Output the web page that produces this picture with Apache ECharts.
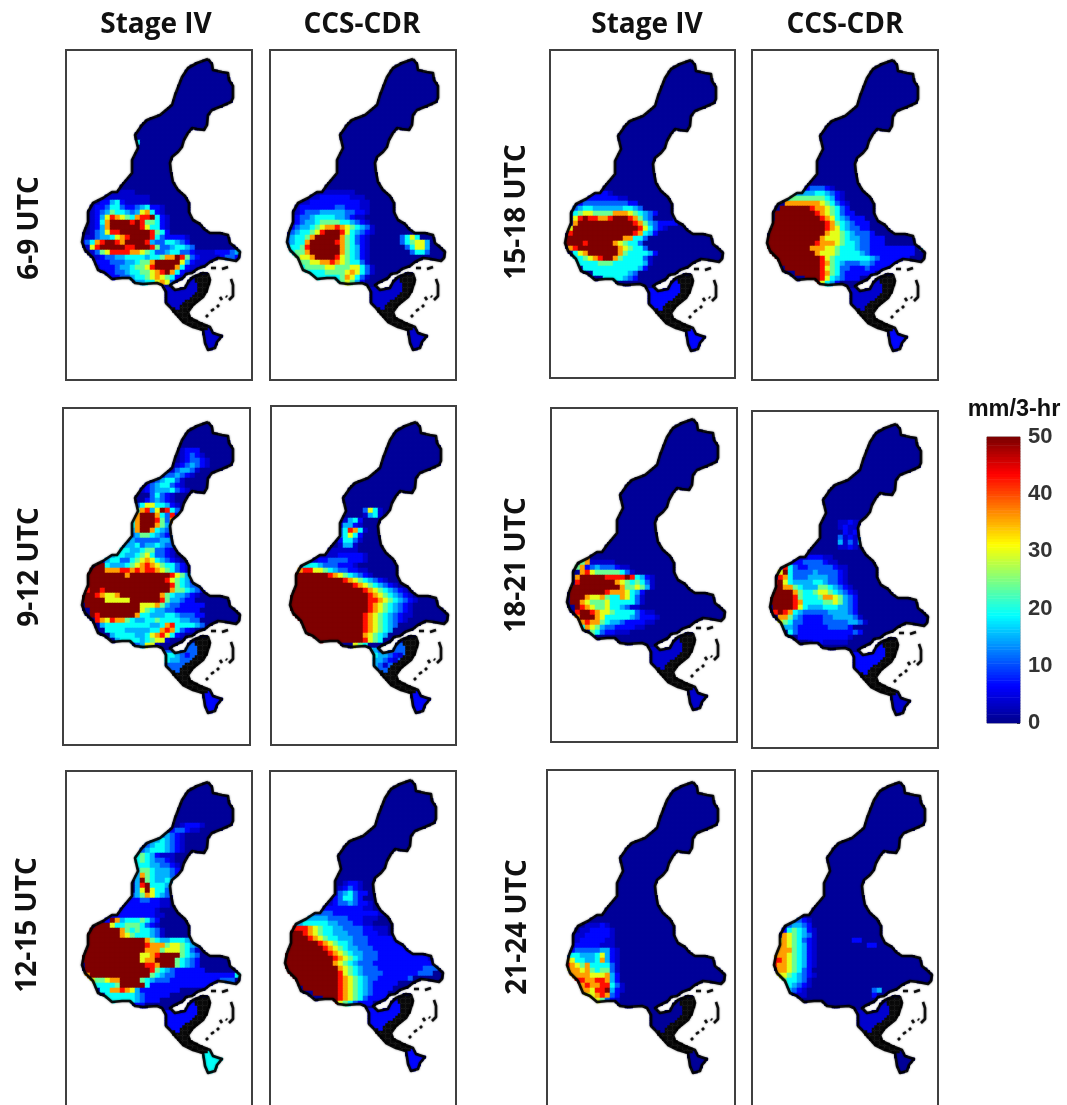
<!DOCTYPE html>
<html><head><meta charset="utf-8">
<style>html,body{margin:0;padding:0;background:#fff}#c{width:1067px;height:1105px}</style>
<script src="https://cdn.jsdelivr.net/npm/echarts@6/dist/echarts.min.js"></script>
</head><body><div id="c"></div>
<script>
// Precipitation class values (mm/3-hr) addressed by digits 0..a in the panel rows below
const levels=[0.5,3.5,6.5,11,15,19,24,30,36,43,50];
const colorbarTicks=[0,10,20,30,40,50];
const columnTitles=['Stage IV','CCS-CDR','Stage IV','CCS-CDR'];
const rowTitles=['6-9 UTC','9-12 UTC','12-15 UTC','15-18 UTC','18-21 UTC','21-24 UTC'];

// Basin boundary, in map units
const basinOutline=[[208,59],[212,64],[213,70],[222,72],[228,73],[229,80],[233,86],[233,98],[231,102],[222,106],[212,110],[208,115],[207,125],[204,130],[197,129],[192,128],[188,133],[184,140],[182,147],[178,152],[172,157],[170,163],[171,172],[173,182],[178,190],[185,196],[189,203],[189,212],[193,220],[200,224],[204,229],[210,233],[220,233],[228,235],[230,243],[236,248],[240,252],[239,258],[236,261],[226,259],[218,258],[210,262],[205,266],[197,269],[192,273],[186,274],[183,278],[173,283],[170,285],[175,290],[185,288],[188,282],[193,277],[203,273],[208,274],[210,280],[207,290],[203,297],[193,305],[188,312],[190,318],[200,323],[210,327],[213,333],[222,336],[217,342],[215,348],[208,350],[205,343],[203,330],[193,327],[183,322],[175,313],[170,307],[166,303],[166,292],[162,285],[157,283],[143,284],[135,283],[130,278],[122,278],[112,279],[105,273],[98,270],[93,258],[85,250],[82,242],[84,232],[88,222],[88,212],[93,203],[103,198],[112,192],[117,192],[122,185],[132,173],[132,160],[138,148],[135,135],[142,125],[147,120],[160,115],[172,105],[175,95],[182,77],[188,68],[197,63],[208,59]];
const islandStrokes=[[[211,268],[216,268]],[[222,269],[228,267]],[[231,279],[233,285],[233,296],[229,300]],[[226,296],[227,297]],[[220,297],[222,300]],[[217,307],[219,305]],[[211,311],[214,309]],[[206,317],[208,315]]];
const stippleArea=[[193,277],[208,274],[210,280],[207,290],[203,297],[193,305],[188,312],[190,318],[200,323],[210,327],[203,331],[193,328],[183,323],[175,313],[170,307],[178,310],[183,303],[192,297],[197,292],[198,284]];
const southUpperArea=[[160,286],[175,288],[187,286],[193,278],[198,284],[197,292],[192,297],[183,303],[178,312],[168,310],[160,303]];
const southTipArea=[[203,330],[210,327],[224,336],[218,352],[205,352]];
// south land classes per panel (digits)
const southUpperClass=[1,1,3,3,2,2,2,1,1,2,0,1];
const southTipClass=[1,1,2,2,5,2,2,2,1,1,0,0];

// Each row: "row col digits"
const stageIV_06_09=["17 11 5","27 4 1111111","28 3 11111111111","29 2 112245211111","30 2 122355322345221","31 2 123465543478521","32 2 124798765899a521","33 2 1258aaaa9a966521","34 2 1248aaaaaa975521","35 2 134799aaaaaa9652","36 0 1113445789aaaa95322221","37 0 23589aa98aaaa943355432","38 1 179aaaaa99aaa963345543","39 2 13679999887653345533211112223451","40 2 11233445555455688a963211112332","41 2 1222333445668aaaaa742111","42 3 122234456679aaaa85211","43 4 1223345566789a8521","44 5 12233455678765210","45 7 122344557873210","46 14 232"];
const ccsCdr_06_09=["27 7 1111111","28 4 1112222221110","29 3 11222222222211","30 2 122222223322211","31 2 123334444433221","32 1 123345555443211","33 1 1234456666554321","34 0 123445678898765431","35 0 23455679aaa9754321","36 0 345568aaaaa865321","36 23 3575","37 0 34558aaaaa9865321","37 23 356774","38 0 45569aaaaaa865421","38 24 35774","39 0 55668aaaaaa865421","39 25 3553","40 1 56778aaaa9765421","41 2 666778898765531","42 3 566667766677531","43 4 55556666787531","44 5 455555687531","45 9 4567642"];
const stageIV_09_12=["6 20 1222","7 20 12321","8 20 123321","9 19 1234321","10 17 1134431","11 15 12334321","12 13 12345531","13 12 123455321","14 12 1234445321","15 14 35321","16 13 234321","17 10 1357755421","18 10 268947a9531","19 10 48aaa853921","20 9 258aaa963861","21 9 258aaa864981","22 9 248aa8543751","23 9 234665432321","24 7 12343333344321","25 6 123445344543321","26 4 1223554456633211","27 3 1234554456753321","28 3 12455335678754321","29 3 aa54445678987655321","30 2 aaa88899898998765321","31 1 aaaaaaaa8aaaaaaaa9764321","32 1 aaaaaaaaaaaaaaaa9765421","33 1 aaaaaaaaaaaaaaaaa96543321","34 0 a9aa9aaaaaaaaaaaaa866543211","35 0 aaa98778aaaaaaaa86544321","36 0 aaaaa77777aaaaaa9644322","37 1 aaaaaaaaaaa7778643322222","38 2 aaaaaaaaaa765443322222","39 2 a9aaaaaaa85544455433322","40 3 987988654455655554433","41 4 455555555544589555543","42 5 555544444558985321","43 6 455554457897521","44 7 45555456771","45 9 2234771","47 17 55432","48 17 5443"];
const ccsCdr_09_12=["18 15 3751","19 15 1451","20 11 1452","21 10 24421","22 10 359851","23 10 35752","24 10 25531","25 10 1441","26 8 111111","27 6 1111222221","28 3 1112233332221","29 2 255543332221","30 2 89977654332211","31 0 aaaaaaaa987654321","32 0 aaaaaaaaaaa987654321","33 0 aaaaaaaaaaaaa987654321","34 0 aaaaaaaaaaaaaaa987654321","35 0 aaaaaaaaaaaaaaaa987654321","36 0 aaaaaaaaaaaaaaaa9987654321","37 0 aaaaaaaaaaaaaaaa987654321","38 0 aaaaaaaaaaaaaaaa987654321","39 0 aaaaaaaaaaaaaaa9876543211","40 0 aaaaaaaaaaaaaaa987654321","41 2 aaaaaaaaaaaaa9876543","42 3 aaaaaaaaaaaa987654","43 4 aaaaaaaaaaa87654","44 5 aaaaaaaaaa9765","45 13 765","46 16 54","47 16 5544321","48 16 544321","49 16 5431"];
const stageIV_12_15=["9 20 12221","10 17 1233211","11 14 2334321","12 13 34454321","13 13 34554321","14 12 345554321","15 11 56542111","16 11 56543321","17 11 555443321","18 11 4665444321","19 11 4865444321","20 11 4a654454321","21 11 49a55544321","22 11 47a755321","23 10 3468754321","24 8 2222332211","25 7 22222222211","26 6 2222222221","27 4 12222222222110","28 5 2a845556532","29 3 aaa7556665321","30 2 aaaaaa865655431","31 1 aaaaaaa876555431","32 1 aaaaaaaaaaaa865445554321","33 1 aaaaaaaaaaaa9888677654321","34 0 aaaaaaaaaaaaa88867776531","35 0 aaaaaaaaaaaa7789aaaa6543","36 0 aaaaaaaaaaaa788aaaa65432","37 1 aaaaaaaaaaaa998aaa65432","38 1 aaaaaaaaaaaaa96543222222","39 1 8aaaaaaaaaaaa654332222222222225553","40 2 766788aaaa6543332222222222333","41 3 55556aaaaa52222222222222","42 4 5588987422222222","43 5 5555554322222","44 6 5555543222","45 8 32222"];
const ccsCdr_12_15=["21 12 1221","22 11 12321","23 10 1345322","24 10 235532","25 9 123343221","26 5 1222222222211","27 3 233333322222222211","28 2 33444443333222111","29 2 4455555443332211","30 1 89998765544333322111","31 0 aaaa98765544433322211","32 0 aaaaa98765544433322222111","33 0 aaaaaaa9876554333222222211","34 0 aaaaaaaa98765443332222222211","35 0 aaaaaaaaa98765443332222222221","36 0 aaaaaaaaaa98765433322222222221","37 0 aaaaaaaaaa876543332222222222221","38 0 aaaaaaaaaaa87654333222222222333","39 0 aaaaaaaaaaa9765433332222222333","40 2 aaaaaaaaa987654332222223","41 3 aaaaaaaa987654322222","42 4 aaaaaaa98765432222","43 6 aaaaa9876543222","44 8 aaa9876532222","45 10 97653222"];
const stageIV_15_18=["27 2 00112221","28 3 1222222211","29 3 233333333322","30 2 34554444445543","31 2 56776666888765432","32 2 79a99889aaa98643","32 22 222","33 2 8aaaaaaaaaaa986432222","34 1 7aaaaaaaaaaaaa975321","35 1 9aaaaaaaaaaaa98542","36 0 aaaaaaaaaaaa88553","37 0 aaaa9aaaaa876553","38 1 89aaaaaaaa876553","39 2 578aaaaaa86555542","40 2 556789aa86555531","41 3 555566655555541","42 4 5555555555542","43 6 555555543","44 8 5555432"];
const ccsCdr_15_18=["26 6 12233321","27 5 34444554321","28 4 566666665421","29 4 8888888765321","30 3 aaaaaa98876532","31 2 aaaaaaaa98765322","32 2 aaaaaaaaa987543222","33 1 aaaaaaaaaaa986543222","34 1 aaaaaaaaaaa987543322","35 1 aaaaaaaaaaa8776543332","36 0 aaaaaaaaaaa8777654433222","37 0 aaaaaaaaaa98887655433222","38 0 aaaaaaaaa888776555433222222222","38 31 4","39 1 aaaaaaaaa87776555543222222222","40 2 aaaaaaaaa976555555543222222","41 3 aaaaaaaa9865433344322222","42 4 aaaaaaa97653322232222","43 6 aaaaa98653222222","44 8 aaa97543222","45 10 97542"];
const stageIV_18_21=["27 3 56","28 3 68","29 3 6811111","30 2 68234333211","31 3 89766666531","32 2 8aaaaa9999a95421","33 2 9aaaaaaa87656531","34 1 aaaaaaaaaa8667641","35 1 aaaaaaa98887542","36 1 aaa877865587531","37 1 aa8766675555531","38 2 a987667554311","39 2 9aa9877655553211","40 2 8aaa8755555432221","41 3 898865443222211","42 3 5876433222211","43 5 65322111"];
const ccsCdr_18_21=["20 14 11211","21 14 12111","22 15 2121","23 14 31213","24 14 41314","25 14 1121","27 6 11222110","28 4 2223333211","29 2 39532233333211","30 2 7a533334333321","31 2 98533344443321","32 1 9a7544445543321","33 1 aa88654446654321","34 0 aaaaa8655677654321","35 0 aaaaa9655568876432","36 0 aaaaa9855556676432","37 1 aaaa9754445554432","38 1 9a985433333444432","39 2 88643222233444431","40 2 765332222333334431","41 3 44322222233332","42 4 532222222222232","43 6 22222222221","44 8 12211111"];
const stageIV_21_24=["29 4 11121","30 3 1122221","31 2 11222221","32 2 12222211","33 1 122222111","34 1 2333334421","35 0 35544457421","36 0 87554458421","37 0 98768555531","38 0 78878656631","39 1 8888777842","40 1 8998899842","41 2 8898899531","42 2 688799a421","43 3 67789832","44 4 6776321","45 5 76321"];
const ccsCdr_21_24=["28 3 23321","29 3 34432","30 2 2565421","31 2 8765431","32 1 78765321","32 16 22","33 1 88765421","33 19 22","34 1 88865421","35 0 888765421","36 0 998765421","37 0 988765421","38 1 8876532","39 1 77654321","40 1 6655431","41 2 554321","42 2 54321","42 20 34","43 3 3211","43 20 2"];
const panels=[stageIV_06_09,ccsCdr_06_09,stageIV_09_12,ccsCdr_09_12,stageIV_12_15,ccsCdr_12_15,stageIV_15_18,ccsCdr_15_18,stageIV_18_21,ccsCdr_18_21,stageIV_21_24,ccsCdr_21_24];

// layout only
const frames=[[66,50,186,330],[270,50,186,330],[63,408,187,337],[271,406,185,339],[66,771,186,400],[270,771,186,400],[550,50,185,328],[752,50,186,330],[551,408,186,334],[752,411,186,337],[547,770,188,400],[752,771,186,400]];
const mapShift=[[0,0],[205,0],[0,363],[208,363],[0,723],[203,721],[483,1],[685,1],[485,360],[688,365],[485,723],[692,723]];
const colTitlePos=[[156,25],[362,25],[647,25],[845,25]];
const rowTitlePos=[[30,228],[30,567],[28,925],[517,212],[517,565],[518,927]];

const X0=80,Y0=55,COARSE=5,SUB=2,CELL=COARSE/SUB,COLS=34*SUB,ROWS=60*SUB;
const jet=['#00008f','#0000ff','#007fff','#00ffff','#7fff7f','#ffff00','#ff7f00','#ff0000','#7f0000'];
function inside(p,poly){let c=false;for(let i=0,j=poly.length-1;i<poly.length;j=i++){const a=poly[i],b=poly[j];if((a[1]>p[1])!==(b[1]>p[1])&&p[0]<(b[0]-a[0])*(p[1]-a[1])/(b[1]-a[1])+a[0])c=!c;}return c;}
function parseRows(rows){const m={};rows.forEach(s=>{const t=s.split(' ');[...t.slice(2).join('')].forEach((ch,i)=>{m[(+t[1]+i)+','+t[0]]=levels[parseInt(ch,11)];});});return m;}
const strokes=[basinOutline];
islandStrokes.forEach(s=>strokes.push(s));
const outlineData=[];strokes.forEach((s,i)=>{if(i)outlineData.push(['-','-']);s.forEach(p=>outlineData.push(p));});
const colNames=Array.from({length:COLS},(_,i)=>i),rowNames=Array.from({length:ROWS},(_,i)=>i);

const grid=[],xAxis=[],yAxis=[],series=[],heatIdx=[];
panels.forEach((rows,i)=>{
  const g=grid.length,sh=mapShift[i],over=parseRows(rows),heat=[],black=[];
  grid.push({left:X0+sh[0],top:Y0+sh[1],width:34*COARSE,height:60*COARSE,show:false});
  const xc=xAxis.length;xAxis.push({type:'category',gridIndex:g,data:colNames,show:false});
  xAxis.push({type:'value',gridIndex:g,min:X0,max:X0+34*COARSE,show:false});
  const yc=yAxis.length;yAxis.push({type:'category',gridIndex:g,data:rowNames,inverse:true,show:false});
  yAxis.push({type:'value',gridIndex:g,min:Y0,max:Y0+60*COARSE,inverse:true,show:false});
  for(let r=0;r<ROWS;r++)for(let c=0;c<COLS;c++){
    const p=[X0+CELL*(c+.5),Y0+CELL*(r+.5)];
    if(!inside(p,basinOutline))continue;
    if(inside(p,stippleArea)){black.push([c,r,1]);continue;}
    let v=levels[0];
    if(inside(p,southUpperArea))v=levels[southUpperClass[i]];
    else if(inside(p,southTipArea))v=levels[southTipClass[i]];
    const k=Math.floor(c/SUB)+','+Math.floor(r/SUB);if(over[k]!==undefined)v=over[k];
    heat.push([c,r,v]);
  }
  // drawn twice so that the fractional cell edges leave no pale seams
  heatIdx.push(series.length);
  series.push({type:'heatmap',xAxisIndex:xc,yAxisIndex:yc,data:heat,progressive:0,silent:true,itemStyle:{borderWidth:0}});
  heatIdx.push(series.length);
  series.push({type:'heatmap',xAxisIndex:xc,yAxisIndex:yc,data:heat,progressive:0,silent:true,itemStyle:{borderWidth:0}});
  series.push({type:'heatmap',xAxisIndex:xc,yAxisIndex:yc,data:black,progressive:0,silent:true,itemStyle:{color:'#0a0a0a',borderWidth:0}});
  series.push({type:'line',xAxisIndex:xc+1,yAxisIndex:yc+1,data:outlineData,showSymbol:false,symbol:'none',silent:true,clip:false,z:5,lineStyle:{color:'#000',width:2.6,opacity:.9,join:'round',shadowBlur:2,shadowColor:'rgba(0,0,0,.6)'}});
});
// colour bar
const cbValues=[];for(let v=0;v<=50;v+=.5)cbValues.push(v);
{const g=grid.length;
 grid.push({left:987,top:437,width:33,height:286,show:true,borderColor:'#8a8a8a',borderWidth:1,backgroundColor:'transparent'});
 const xc=xAxis.length;xAxis.push({type:'category',gridIndex:g,data:['c'],show:false});
 const yc=yAxis.length;yAxis.push({type:'category',gridIndex:g,data:cbValues,show:false});
 yAxis.push({type:'value',gridIndex:g,min:colorbarTicks[0],max:colorbarTicks[5],interval:10,position:'right',splitLine:{show:false},axisLine:{show:false},
   axisTick:{show:true,inside:true,length:3,lineStyle:{color:'#333'}},
   axisLabel:{show:true,margin:8,color:'#333',fontWeight:'bold',fontSize:22,fontFamily:'Liberation Sans',formatter:v=>String(v)}});
 heatIdx.push(series.length);
 series.push({type:'heatmap',xAxisIndex:xc,yAxisIndex:yc,data:cbValues.map((v,i)=>[0,i,v]),progressive:0,silent:true});
 series.push({type:'line',xAxisIndex:xc,yAxisIndex:yc+1,data:[],silent:true});
}
const graphic=[];
frames.forEach(f=>graphic.push({type:'rect',silent:true,z:20,shape:{x:f[0],y:f[1],width:f[2],height:f[3]},style:{fill:'none',stroke:'#404040',lineWidth:2}}));
const font='"Open Sans"';
columnTitles.forEach((t,i)=>graphic.push({type:'text',silent:true,x:colTitlePos[i][0],y:colTitlePos[i][1],style:{text:t,fill:'#111',font:'bold 28px '+font,textAlign:'center',textVerticalAlign:'middle'}}));
rowTitles.forEach((t,i)=>graphic.push({type:'text',silent:true,x:rowTitlePos[i][0],y:rowTitlePos[i][1],rotation:Math.PI/2,style:{text:t,fill:'#111',font:'bold 28px '+font,textAlign:'center',textVerticalAlign:'middle'}}));
graphic.push({type:'text',silent:true,x:1014,y:410,style:{text:'mm/3-hr',fill:'#111',font:'bold 23.5px "Liberation Sans"',textAlign:'center',textVerticalAlign:'middle'}});

const chart=echarts.init(document.getElementById('c'),null,{renderer:'canvas',width:1067,height:1105});
chart.setOption({animation:false,backgroundColor:'#fff',grid,xAxis,yAxis,series,graphic,
  visualMap:{show:false,type:'continuous',min:0,max:50,seriesIndex:heatIdx,dimension:2,inRange:{color:jet},calculable:false}});
</script></body></html>
